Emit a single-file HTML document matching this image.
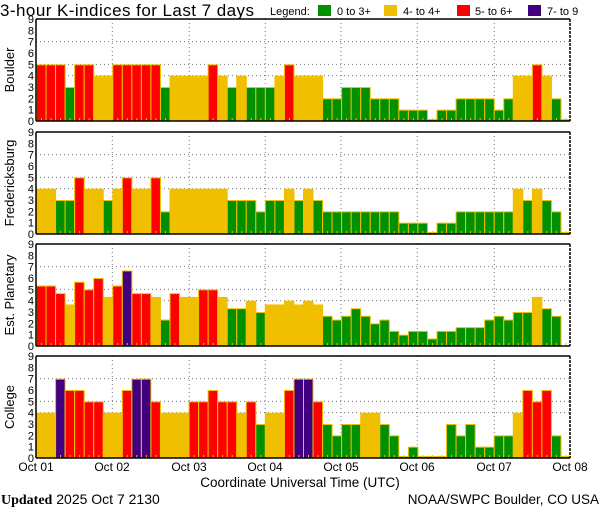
<!DOCTYPE html>
<html><head><meta charset="utf-8"><style>
html,body{margin:0;padding:0;background:#fff;}
svg{display:block;font-family:"Liberation Sans",sans-serif;}
</style></head><body>
<svg id="s" width="600" height="510" xmlns="http://www.w3.org/2000/svg">
<rect width="600" height="510" fill="#fff"/>
<text x="0" y="16" font-size="17" letter-spacing="0.45" fill="#000">3-hour K-indices for Last 7 days</text>
<text x="270" y="15" font-size="11">Legend:</text>
<rect x="318" y="5" width="13" height="11" fill="#009000"/><text x="337" y="15" font-size="11">0 to 3+</text>
<rect x="384" y="5" width="13" height="11" fill="#f0c000"/><text x="403" y="15" font-size="11">4- to 4+</text>
<rect x="457" y="5" width="13" height="11" fill="#ff0000"/><text x="475" y="15" font-size="11">5- to 6+</text>
<rect x="528" y="5" width="13" height="11" fill="#400080"/><text x="547" y="15" font-size="11">7- to 9</text>
<g id="g"></g>
<g font-size="12" text-anchor="middle">
<text x="36" y="471">Oct 01</text><text x="112" y="471">Oct 02</text><text x="189" y="471">Oct 03</text><text x="265" y="471">Oct 04</text>
<text x="341" y="471">Oct 05</text><text x="417" y="471">Oct 06</text><text x="494" y="471">Oct 07</text><text x="570" y="471">Oct 08</text>
<text x="300" y="487" font-size="13.5">Coordinate Universal Time (UTC)</text>
</g>
<text x="1" y="504" font-size="14" font-family="Liberation Serif,serif"><tspan font-weight="bold">Updated</tspan><tspan font-family="Liberation Sans,sans-serif"> 2025 Oct  7 2130</tspan></text>
<text x="599" y="504" font-size="13.5" text-anchor="end">NOAA/SWPC Boulder, CO USA</text>
</svg>
<script>
var T=1/3;
var data=[
["Boulder",19,121,[5,5,5,3,5,5,4,4,5,5,5,5,5,3,4,4,4,4,5,4,3,4,3,3,3,4,5,4,4,4,2,2,3,3,3,2,2,2,1,1,1,0,1,1,2,2,2,2,1,2,4,4,5,4,2,0]],
["Fredericksburg",132,234,[4,4,3,3,5,4,4,3,4,5,4,4,5,2,4,4,4,4,4,4,3,3,3,2,3,3,4,3,4,3,2,2,2,2,2,2,2,2,1,1,1,0,1,1,2,2,2,2,2,2,4,3,4,3,2,0]],
["Est. Planetary",244,346,[5+T,5+T,4+2*T,3+2*T,5+2*T,5,6,4+T,5+T,6+2*T,4+2*T,4+2*T,4+T,2+T,4+2*T,4+T,4+T,5,5,4+T,3+T,3+T,4,3,3+2*T,3+2*T,4,3+2*T,4,3+2*T,2+2*T,2+T,2+2*T,3+T,2+2*T,2,2+T,1+T,1,1+T,1+T,2*T,1+T,1+T,1+2*T,1+2*T,1+2*T,2+T,2+2*T,2+T,3,3,4+T,3+T,2+2*T,-1]],
["College",356,458,[4,4,7,6,6,5,5,4,4,6,7,7,5,4,4,4,5,5,6,5,5,4,5,3,4,4,6,7,7,5,3,2,3,3,4,4,3,2,0,1,0,0,0,3,2,3,1,1,2,2,4,6,5,6,2,0]]
];
var L=36,R=570,W=(R-L)/56,h='';
var days=[112.3,189.3,265.3,341,417.3,494.3];
function col(v){return v>=6.6?'#400080':v>=4.6?'#ff0000':v>=3.6?'#f0c000':'#009000';}
data.forEach(function(p){
 var t=p[1],b=p[2],u=(b-t)/9;
 [4,5,7].forEach(function(k){var y=b-k*u;h+='<line x1="'+L+'" x2="'+R+'" y1="'+y+'" y2="'+y+'" stroke="#777" stroke-dasharray="1,3"/>';});
 days.forEach(function(x){h+='<line x1="'+x+'" x2="'+x+'" y1="'+t+'" y2="'+b+'" stroke="#777" stroke-dasharray="1,3"/>';});
 p[3].forEach(function(v,i){
  var x=L+i*W;
  if(v>=0){
   var hh=v===0?2:v*u;
   h+='<rect x="'+(x+0.5)+'" y="'+(b-hh+0.5)+'" width="'+(W)+'" height="'+(hh-0.5)+'" fill="'+col(v)+'" stroke="#f0c000" stroke-width="1"/>';
  }
  h+='<rect x="'+(x+5)+'" y="'+(b-3)+'" width="1" height="3" fill="#f0c000"/>';
 });
 h+='<line x1="'+L+'" x2="'+R+'" y1="'+t+'" y2="'+t+'" stroke="#000" stroke-width="1.5"/>';
 h+='<line x1="'+L+'" x2="'+R+'" y1="'+b+'" y2="'+b+'" stroke="#000" stroke-width="1.5"/>';
 h+='<line x1="'+L+'" x2="'+L+'" y1="'+t+'" y2="'+b+'" stroke="#000" stroke-width="1.5"/>';
 h+='<line x1="'+R+'" x2="'+R+'" y1="'+t+'" y2="'+b+'" stroke="#000" stroke-width="1.5" stroke-dasharray="3,1"/>';
 for(var k=0;k<=9;k++){h+='<text x="34" y="'+(b-k*u+4)+'" font-size="11" text-anchor="end">'+k+'</text>';}
 var cy=(t+b)/2;
 h+='<text transform="translate(14,'+cy+') rotate(-90)" font-size="13" text-anchor="middle">'+p[0]+'</text>';
});
document.getElementById('g').innerHTML=h;
</script>
</body></html>
